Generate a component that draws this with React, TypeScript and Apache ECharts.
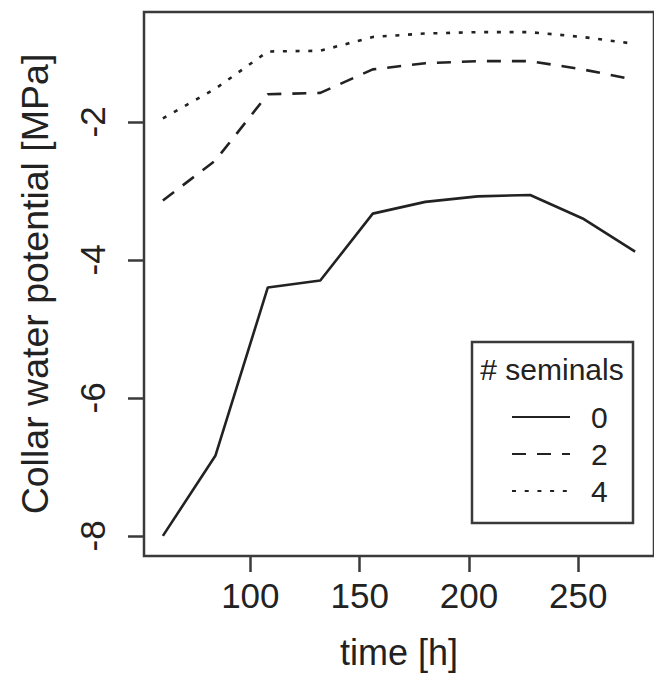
import React, { useEffect, useRef } from "react";
import * as echarts from "echarts";

const timeH = [60, 84, 108, 132, 156, 180, 204, 228, 252, 276];
const seminals0 = [-8.0, -6.84, -4.4, -4.3, -3.33, -3.16, -3.08, -3.06, -3.4, -3.88];
const seminals2 = [-3.14, -2.56, -1.6, -1.58, -1.24, -1.15, -1.12, -1.12, -1.24, -1.39];
const seminals4 = [-1.95, -1.52, -0.98, -0.97, -0.77, -0.72, -0.7, -0.7, -0.77, -0.87];
const xTicks = [100, 150, 200, 250];
const yTicks = [-8, -6, -4, -2];
const legendNames = ["0", "2", "4"];

const FONT = "'Liberation Sans', Arial, Helvetica, sans-serif";
const INK = "#222";
const FRAME = "#3a3a3a";

function rRange(vals: number[]): [number, number] {
  const lo = Math.min(...vals);
  const hi = Math.max(...vals);
  const pad = (hi - lo) * 0.04;
  return [lo - pad, hi + pad];
}

export default function App() {
  const ref = useRef<HTMLDivElement>(null);
  useEffect(() => {
    if (!ref.current) return;
    const chart = echarts.init(ref.current, null, { renderer: "svg" });
    const [xMin, xMax] = rRange(timeH);
    const [yMin, yMax] = rRange([...seminals0, ...seminals2, ...seminals4]);
    const pairs = (ys: number[]) => timeH.map((t, i) => [t, ys[i]]);
    const lineBase = { type: "line", symbol: "none", showSymbol: false, silent: true };
    chart.setOption({
      animation: false,
      backgroundColor: "#fff",
      textStyle: { fontFamily: FONT },
      grid: {
        show: true,
        left: 144,
        top: 12,
        width: 515,
        height: 544,
        borderColor: FRAME,
        borderWidth: 2.5,
        backgroundColor: "transparent",
      },
      xAxis: {
        type: "value",
        min: xMin,
        max: xMax,
        name: "time [h]",
        nameLocation: "middle",
        nameGap: 78,
        nameTextStyle: { fontSize: 36, color: INK, fontFamily: FONT },
        axisLine: { show: false },
        splitLine: { show: false },
        axisTick: {
          show: true,
          customValues: xTicks,
          length: 16,
          lineStyle: { color: FRAME, width: 2.5 },
        },
        axisLabel: {
          customValues: xTicks,
          fontSize: 35,
          color: INK,
          margin: 22,
          fontFamily: FONT,
        },
      },
      yAxis: {
        type: "value",
        min: yMin,
        max: yMax,
        name: "Collar water potential [MPa]",
        nameLocation: "middle",
        nameGap: 90,
        nameTextStyle: { fontSize: 37.5, color: INK, fontFamily: FONT },
        axisLine: { show: false },
        splitLine: { show: false },
        axisTick: {
          show: true,
          customValues: yTicks,
          length: 16,
          lineStyle: { color: FRAME, width: 2.5 },
        },
        axisLabel: {
          customValues: yTicks,
          rotate: 90,
          fontSize: 35,
          color: INK,
          margin: 34,
          fontFamily: FONT,
        },
      },
      legend: {
        show: true,
        orient: "vertical",
        left: 506,
        top: 397,
        itemWidth: 58,
        itemHeight: 16,
        itemGap: 7,
        data: legendNames,
        selectedMode: false,
        itemStyle: { color: "transparent", borderWidth: 0, opacity: 0 },
        textStyle: {
          fontSize: 30,
          color: INK,
          fontFamily: FONT,
          padding: [0, 0, 0, 16],
        },
      },
      graphic: [
        {
          type: "rect",
          z: 1,
          shape: { x: 472, y: 342, width: 161, height: 181 },
          style: { fill: "#fff", stroke: FRAME, lineWidth: 2.5 },
        },
        {
          type: "text",
          z: 2,
          x: 552,
          y: 369,
          style: {
            text: "# seminals",
            fontSize: 30,
            fontFamily: FONT,
            fill: INK,
            textAlign: "center",
            textVerticalAlign: "middle",
          },
        },
      ],
      series: [
        {
          ...lineBase,
          name: legendNames[0],
          data: pairs(seminals0),
          lineStyle: { color: INK, width: 2.6, type: "solid" },
          itemStyle: { color: INK },
        },
        {
          ...lineBase,
          name: legendNames[1],
          data: pairs(seminals2),
          lineStyle: { color: INK, width: 2.6, type: [14, 11], cap: "butt" },
          itemStyle: { color: INK },
        },
        {
          ...lineBase,
          name: legendNames[2],
          data: pairs(seminals4),
          lineStyle: { color: INK, width: 2.6, type: [4, 8.7], cap: "butt" },
          itemStyle: { color: INK },
        },
      ],
    });
    return () => chart.dispose();
  }, []);
  return (
    <div
      ref={ref}
      style={{ position: "absolute", left: 0, top: 0, width: 654, height: 681, background: "#fff" }}
    />
  );
}
